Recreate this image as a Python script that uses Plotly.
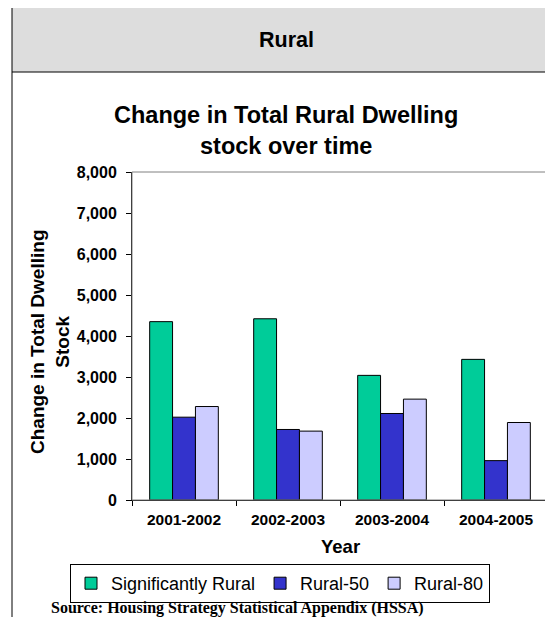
import plotly.graph_objects as go

years = ["2001-2002", "2002-2003", "2003-2004", "2004-2005"]
significantly_rural = [4350, 4420, 3040, 3430]
rural_50 = [2020, 1720, 2110, 960]
rural_80 = [2280, 1680, 2460, 1890]

# the page body adds 8px around the figure, so the figure is drawn 8px smaller
OFF = 8
W, H = 553 - OFF, 617 - OFF
L, R, T, B = 132 - OFF, 5, 172 - OFF, 617 - 500
PW, PH = W - L - R, H - T - B


def px(x):
    # x in page pixels -> paper coordinate
    return (x - OFF - L) / PW


def py(y):
    return (H - B - (y - OFF)) / PH


fig = go.Figure()
series = [
    ("Significantly Rural", significantly_rural, "#00CC99"),
    ("Rural-50", rural_50, "#3333CC"),
    ("Rural-80", rural_80, "#CCCCFF"),
]
for name, vals, col in series:
    fig.add_trace(go.Bar(x=years, y=vals, name=name,
                         marker=dict(color=col, line=dict(color="black", width=1))))

fig.update_layout(
    width=W, height=H,
    margin=dict(l=L, r=R, t=T, b=B, autoexpand=False),
    paper_bgcolor="white", plot_bgcolor="white",
    barmode="group", bargap=0.34, bargroupgap=0,
    font=dict(family="Arial, Liberation Sans", color="black"),
    showlegend=True,
    legend=dict(orientation="h", xref="container", x=(280 - OFF) / W, xanchor="center",
                yref="container", y=1 - (564 - OFF) / H, yanchor="top",
                bordercolor="black", borderwidth=1, font=dict(size=18),
                traceorder="normal", itemwidth=30),
)
fig.update_yaxes(range=[0, 8000], dtick=1000, tickformat=",d", automargin=False,
                 showline=True, linecolor="black", linewidth=1,
                 ticks="outside", ticklen=5, tickcolor="black", ticklabelstandoff=6,
                 showgrid=False, zeroline=False,
                 tickfont=dict(size=16, weight="bold"))
fig.update_xaxes(showline=True, linecolor="black", linewidth=1, automargin=False,
                 ticks="outside", ticklen=5, tickcolor="black", tickson="boundaries",
                 ticklabelstandoff=5,
                 tickfont=dict(size=15.5, weight="bold"))

shapes = [
    # plot frame top/right
    dict(type="rect", xref="paper", yref="paper", x0=0, x1=1, y0=0, y1=1,
         line=dict(color="#808080", width=1)),
    # header box
    dict(type="rect", xref="paper", yref="paper", x0=px(12), x1=px(570), y0=py(72), y1=py(7),
         fillcolor="#DDDDDD", line=dict(color="black", width=1), layer="below"),
    # left border
    dict(type="line", xref="paper", yref="paper", x0=px(12), x1=px(12), y0=py(72), y1=py(640),
         line=dict(color="black", width=1)),
]
fig.update_layout(shapes=shapes)


def label(text, x, y, size, **kw):
    fig.add_annotation(text=text, xref="paper", yref="paper", x=px(x), y=py(y),
                       xanchor=kw.pop("xanchor", "center"), yanchor="middle",
                       showarrow=False, font=dict(size=size, **kw.pop("font", {})), **kw)


label("<b>Rural</b>", 286, 40, 21.5)
label("<b>Change in Total Rural Dwelling</b>", 285.5, 115, 23.5)
label("<b>stock over time</b>", 285.5, 146, 23.5)
label("<b>Change in Total Dwelling<br>Stock</b>", 50, 342, 19, textangle=-90)
label("<b>Year</b>", 340, 546, 18.5)
label("<b>Source: Housing Strategy Statistical Appendix (HSSA)</b>", 49, 608, 16,
      xanchor="left", font=dict(family="Liberation Serif, Times New Roman"))

fig.write_html("out.html")
